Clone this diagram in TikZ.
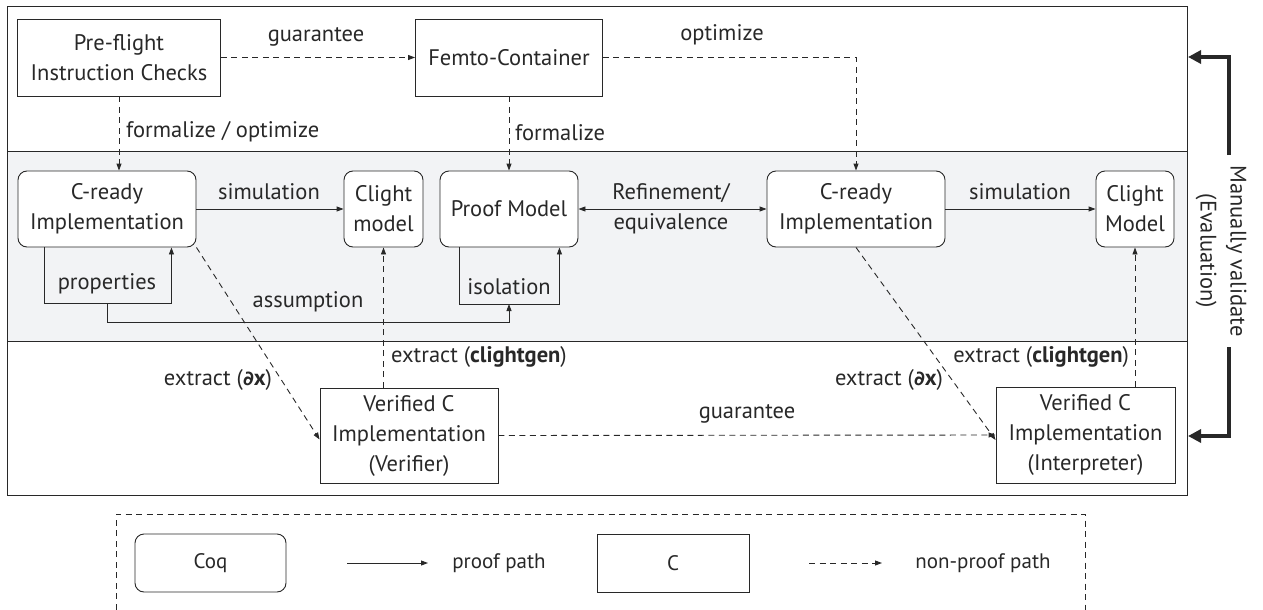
\documentclass[tikz,border=0pt]{standalone}
\usepackage{fontspec}
\setmainfont{PT Sans}
\newfontfamily\dejavu{DejaVu Sans}
\usetikzlibrary{arrows.meta,calc}
\definecolor{band}{RGB}{242,243,245}
\definecolor{ln}{RGB}{40,40,40}
\tikzset{
  every node/.style={font=\fontsize{22.5}{30}\selectfont, text=ln},
  cbox/.style={draw=ln, line width=0.9pt, align=center, inner sep=0pt, fill=white},
  coqbox/.style={cbox, rounded corners=9pt},
  tipa/.style={-{Triangle[length=7pt,width=5pt]}},
  proof/.style={draw=ln, line width=0.9pt, tipa},
  nonproof/.style={proof, dash pattern=on 6pt off 4.5pt},
  lbl/.style={inner sep=0pt},
  legtext/.style={font=\fontsize{21}{26}\selectfont},
  thick arrow/.style={draw=ln, line width=3.6pt, -{Triangle[length=13pt,width=13pt]}},
}
\newcommand{\dx}{({\dejavu\bfseries\fontsize{20}{30}\selectfont ∂}\textbf{x})}
\begin{document}
\begin{tikzpicture}[x=1pt,y=-1pt]
\useasboundingbox (0,0) rectangle (1263,610);
% bands
\fill[band] (7,151) rectangle (1187,341);
\draw[ln, line width=1pt] (7,7) rectangle (1187,495);
\draw[ln, line width=1pt] (7,151) -- (1187,151) (7,341) -- (1187,341);

% top row
\node[cbox, minimum width=203pt, minimum height=77pt] (pre) at (119,57.5) {Pre-flight\\Instruction Checks};
\node[cbox, minimum width=187pt, minimum height=77pt] (femto) at (509,57.5) {Femto-Container};

% middle row
\node[coqbox, minimum width=178pt, minimum height=76pt] (cr1) at (107,209) {C-ready\\Implementation};
\node[coqbox, minimum width=79pt, minimum height=76pt] (cl1) at (383.5,209) {Clight\\model};
\node[coqbox, minimum width=138pt, minimum height=76pt] (pm) at (509,209) {Proof Model};
\node[coqbox, minimum width=178pt, minimum height=76pt] (cr2) at (856,209) {C-ready\\Implementation};
\node[coqbox, minimum width=78pt, minimum height=76pt] (cl2) at (1135,209) {Clight\\Model};

% bottom row
\node[cbox, minimum width=178pt, minimum height=95pt] (ver) at (409,435.5) {Verified C\\Implementation\\(Verifier)};
\node[cbox, minimum width=179pt, minimum height=96pt] (int) at (1085.5,435) {Verified C\\Implementation\\(Interpreter)};

% top connectors
\draw[nonproof] (pre.east) -- (femto.west);
\node[lbl] at (316,37) {guarantee};
\draw[nonproof] (femto.east) -| (cr2.north);
\node[lbl] at (722,35) {optimize};
\draw[nonproof] (pre.south) -- (pre.south |- cr1.north);
\node[lbl, anchor=west] at (126,132) {formalize / optimize};
\draw[nonproof] (femto.south) -- (pm.north);
\node[lbl, anchor=west] at (515,133) {formalize};

% middle connectors
\draw[proof] (cr1.east |- cl1.west) -- (cl1.west);
\node[lbl] at (269,192) {simulation};
\draw[draw=ln, line width=0.9pt, {Triangle[length=7pt,width=5pt]}-{Triangle[length=7pt,width=5pt]}] (pm.east) -- (cr2.west);
\node[lbl, align=center] at (671,209) {Refinement/\\equivalence};
\draw[proof] (cr2.east) -- (cl2.west);
\node[lbl] at (1020,192) {simulation};

\draw[proof] ([xshift=27pt]cr1.south west) -- ++(0,56) coordinate (pl) -| ([xshift=-25pt]cr1.south east);
\node[lbl] at (107,284) {properties};
\draw[proof] ([xshift=20pt]pm.south west) -- ++(0,57) coordinate (il) -| ([xshift=-19pt]pm.south east);
\node[lbl] at (509,287) {isolation};
\coordinate (pmid) at (107,303);
\coordinate (imid) at (509,304);
\draw[proof] (pmid) -- (107,322) -| (imid);
\node[lbl] at (308,302) {assumption};

% bottom connectors
\draw[nonproof] (cr1.south east) -- ([yshift=-4pt]ver.west);
\node[lbl] at (218,380) {extract \dx};
\draw[nonproof] (ver.north -| cl1.south) -- (cl1.south);
\node[lbl, anchor=west] at (391,357) {extract (\textbf{clightgen})};
\draw[nonproof] (cr2.south) -- ([yshift=-5pt]int.west);
\node[lbl] at (889,380) {extract \dx};
\draw[nonproof] (int.north -| cl2.south) -- (cl2.south);
\node[lbl, anchor=east] at (1129,357) {extract (\textbf{clightgen})};
\draw[nonproof] (ver.east) -- (int.west);
\node[lbl] at (747,414) {guarantee};

% manual validation
\coordinate (mt) at (1229,155);
\coordinate (mb) at (1229,347);
\coordinate (ft) at (1188,57);
\coordinate (fb) at (1188,436);
\draw[thick arrow] (mt) -- (mt |- ft) -- (ft);
\draw[thick arrow] (mb) -- (mb |- fb) -- (fb);
\node[rotate=-90, align=center, lbl] (mv) at (1221,251) {Manually validate\\(Evaluation)};

% legend
\draw[ln, line width=0.9pt, dash pattern=on 6pt off 4.5pt] (116,620) -- (116,514) -- (1085,514) -- (1085,620);
\node[coqbox, minimum width=151pt, minimum height=58pt, legtext] (coq) at (210.5,563) {Coq};
\coordinate (pa1) at (347,563);
\coordinate (pa2) at (428,563);
\draw[proof] (pa1) -- (pa2);
\node[lbl, legtext] (pp) at (499,563) {proof path};
\node[cbox, minimum width=152pt, minimum height=58pt, legtext] (cc) at (673,563) {C};
\coordinate (na1) at (809,563);
\coordinate (na2) at (882,563);
\draw[nonproof] (na1) -- (na2);
\node[lbl, legtext] (np) at (983,563) {non-proof path};
\end{tikzpicture}
\end{document}
